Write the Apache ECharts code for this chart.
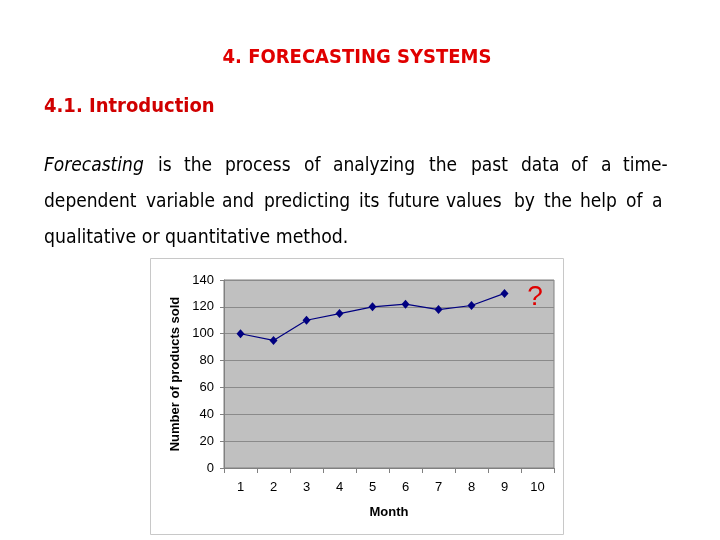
<!DOCTYPE html>
<html><head><meta charset="utf-8">
<script src="https://cdn.jsdelivr.net/npm/echarts@6/dist/echarts.min.js"></script>
<style>html,body{margin:0;padding:0;background:#fff}#c{width:720px;height:540px}</style>
</head><body><div id="c"></div>
<script>
const months = ['1','2','3','4','5','6','7','8','9','10'];
const sold = [100, 95, 110, 115, 120, 122, 118, 121, 130, null];
const yTicks = {min: 0, max: 140, interval: 20};
const titleText = '4. FORECASTING SYSTEMS';
const subTitle = '4.1. Introduction';
const line1 = [['Forecasting',44,true],['is',158],['the',184],['process',225],['of',304],['analyzing',333],['the',429],['past',471],['data',521],['of',571],['a',601],['time-',623]];
const line2 = [['dependent',44],['variable',146],['and',222],['predicting',264],['its',359],['future',388],['values',446],['by',514],['the',544],['help',580],['of',626],['a',652]];
const line3 = 'qualitative or quantitative method.';

const bodyFont = '"DejaVu Sans Condensed", "DejaVu Sans", sans-serif';
const graphics = [
  {type:'rect', shape:{x:150.5,y:258.5,width:413,height:276}, style:{fill:'#fff', stroke:'#c8c8c8', lineWidth:1}, z:-10},
  {type:'text', x:357, y:58, style:{text:titleText, fill:'#e00000', font:'bold 20px '+bodyFont, textAlign:'center', textVerticalAlign:'middle'}},
  {type:'text', x:44, y:107, style:{text:subTitle, fill:'#d00000', font:'bold 20px '+bodyFont, textAlign:'left', textVerticalAlign:'middle'}},
  {type:'text', x:44, y:238, style:{text:line3, fill:'#000', font:'19.3px '+bodyFont, textAlign:'left', textVerticalAlign:'middle'}},
  {type:'text', x:535, y:297, style:{text:'?', fill:'#e00000', font:'28px "Liberation Sans", Arial, sans-serif', textAlign:'center', textVerticalAlign:'middle'}}
];
line1.forEach(w => graphics.push({type:'text', x:w[1], y:166, style:{text:w[0], fill:'#000', font:(w[2]?'italic ':'')+'19px '+bodyFont, textAlign:'left', textVerticalAlign:'middle'}}));
line2.forEach(w => graphics.push({type:'text', x:w[1], y:202, style:{text:w[0], fill:'#000', font:'19px '+bodyFont, textAlign:'left', textVerticalAlign:'middle'}}));

const chart = echarts.init(document.getElementById('c'));
chart.setOption({
  animation:false,
  backgroundColor:'#fff',
  graphic: graphics,
  grid:{left:224, top:280, width:330, height:188, show:true, backgroundColor:'#c0c0c0', borderColor:'#808080', borderWidth:1},
  xAxis:{
    type:'category', data:months, boundaryGap:true,
    name:'Month', nameLocation:'middle', nameGap:38,
    nameTextStyle:{fontFamily:'"Liberation Sans", Arial', fontWeight:'bold', fontSize:13, color:'#000'},
    axisLine:{lineStyle:{color:'#808080'}},
    axisTick:{show:true, length:5, lineStyle:{color:'#808080'}, alignWithLabel:false},
    axisLabel:{color:'#000', fontFamily:'"Liberation Sans", Arial', fontSize:13, margin:13},
    splitLine:{show:false}
  },
  yAxis:{
    type:'value', min:yTicks.min, max:yTicks.max, interval:yTicks.interval,
    name:'Number of products sold', nameLocation:'middle', nameGap:42, nameRotate:90,
    nameTextStyle:{fontFamily:'"Liberation Sans", Arial', fontWeight:'bold', fontSize:13, color:'#000'},
    axisLine:{show:true, lineStyle:{color:'#808080'}},
    axisTick:{show:true, length:4, lineStyle:{color:'#808080'}},
    axisLabel:{color:'#000', fontFamily:'"Liberation Sans", Arial', fontSize:13, margin:10},
    splitLine:{show:true, lineStyle:{color:'#8a8a8a', width:1}}
  },
  series:[{
    type:'line', data:sold, symbol:'diamond', symbolSize:[8,9],
    lineStyle:{color:'#000080', width:1.2},
    itemStyle:{color:'#000080'},
    connectNulls:false
  }]
});
</script></body></html>
